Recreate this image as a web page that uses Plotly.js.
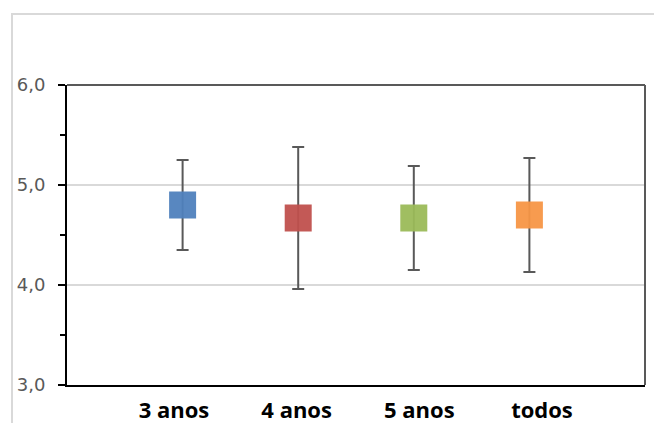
<!DOCTYPE html>
<html>
<head>
<meta charset="utf-8">
<script src="https://cdn.plot.ly/plotly-3.0.1.min.js"></script>
<style>
  html, body { margin: 0; padding: 0; background: #fff; }
  #chart { position: absolute; left: 0; top: 0; width: 654px; height: 423px; }
  #frame { position: absolute; left: 11px; top: 13px; width: 643px; height: 420px;
           border-left: 2px solid #d9d9d9; border-top: 2px solid #d9d9d9; pointer-events: none; }
</style>
</head>
<body>
<div id="frame"></div>
<div id="chart"></div>
<script>
const categories = ["3 anos", "4 anos", "5 anos", "todos"];
const means = [4.80, 4.67, 4.67, 4.70];
const errors = [0.45, 0.71, 0.52, 0.57];
const colors = ["#4f81bd", "#c0504d", "#9bbb59", "#f79646"];
const yTicks = [3, 4, 5, 6];

const traces = categories.map((c, i) => ({
  type: "scatter",
  mode: "markers",
  x: [c],
  y: [means[i]],
  xaxis: "x",
  yaxis: "y",
  marker: { symbol: "square", size: 27, color: colors[i], opacity: 0.95, line: { width: 0 } },
  error_y: { type: "data", array: [errors[i]], visible: true, color: "#595959", thickness: 2, width: 6 },
  showlegend: false,
  hoverinfo: "skip"
}));

// invisible carrier trace so the label axis (x2) draws its category labels
traces.push({
  type: "scatter",
  mode: "markers",
  x: categories,
  y: means,
  xaxis: "x2",
  yaxis: "y",
  marker: { size: 1, opacity: 0 },
  showlegend: false,
  hoverinfo: "skip"
});

const layout = {
  width: 654,
  height: 423,
  margin: { l: 67, r: 9, t: 85, b: 38 },
  paper_bgcolor: "rgba(0,0,0,0)",
  plot_bgcolor: "rgba(0,0,0,0)",
  separators: ",.",
  showlegend: false,
  xaxis: {
    type: "category",
    categoryorder: "array",
    categoryarray: categories,
    range: [-1, 4],
    showticklabels: false,
    ticks: "",
    showgrid: false,
    zeroline: false,
    showline: true,
    linecolor: "#000000",
    linewidth: 2
  },
  xaxis2: {
    overlaying: "x",
    anchor: "y",
    side: "bottom",
    type: "category",
    categoryorder: "array",
    categoryarray: categories,
    range: [-0.872, 3.84],
    ticks: "",
    showgrid: false,
    zeroline: false,
    showline: false,
    ticklabelstandoff: 10,
    tickfont: { family: "Open Sans, sans-serif", size: 22, color: "#000000", weight: "bold" }
  },
  yaxis: {
    range: [3, 6],
    tickvals: yTicks,
    tickformat: ".1f",
    ticks: "outside",
    ticklen: 7,
    tickwidth: 2,
    tickcolor: "#000000",
    showgrid: true,
    gridcolor: "#d9d9d9",
    gridwidth: 2,
    zeroline: false,
    showline: true,
    linecolor: "#000000",
    linewidth: 2,
    ticklabelstandoff: 9,
    tickfont: { family: "DejaVu Sans, sans-serif", size: 18, color: "#595959" },
    minor: { dtick: 0.5, tick0: 3, ticks: "outside", ticklen: 5, tickwidth: 2, tickcolor: "#000000", showgrid: false }
  },
  shapes: [
    { type: "line", xref: "paper", yref: "paper", x0: 0, x1: 1, y0: 1, y1: 1, line: { color: "#595959", width: 2 } },
    { type: "line", xref: "paper", yref: "paper", x0: 1, x1: 1, y0: 0, y1: 1, line: { color: "#595959", width: 2 } }
  ]
};

Plotly.newPlot("chart", traces, layout, { displayModeBar: false, staticPlot: true });
</script>
</body>
</html>
